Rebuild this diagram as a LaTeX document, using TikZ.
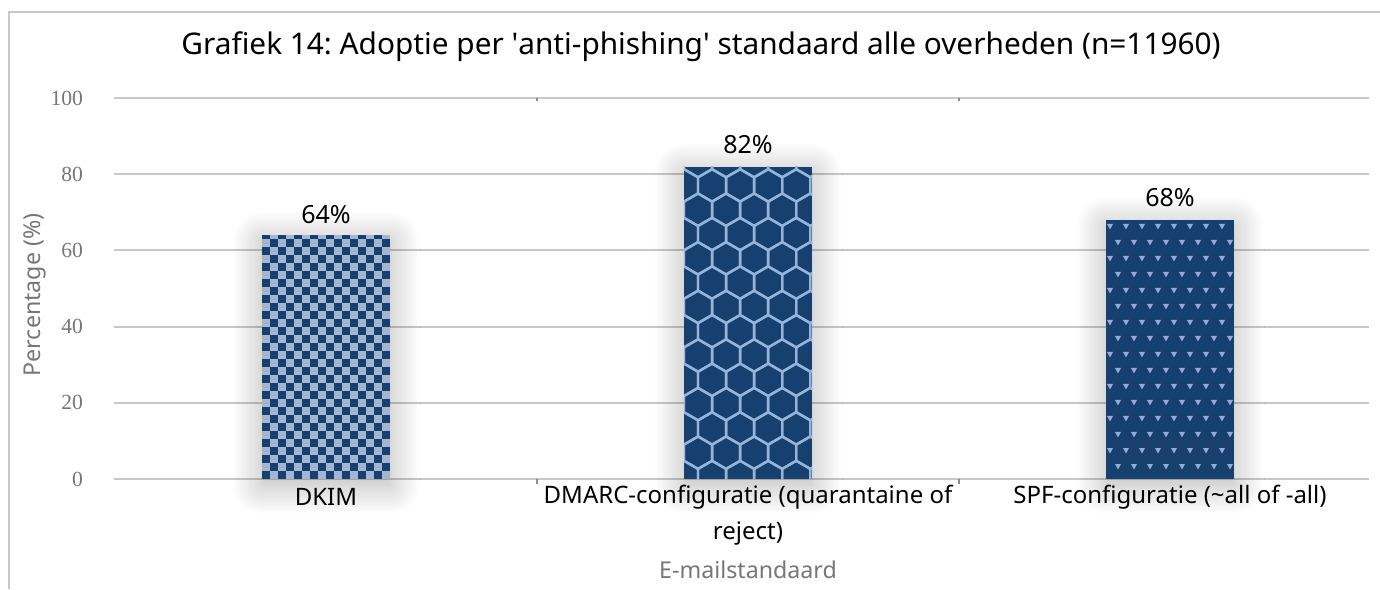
\documentclass[tikz,border=0pt]{standalone}
\usepackage{fontspec}
\setmainfont{Noto Sans}
\newfontfamily\tickfont{Liberation Serif}
\usetikzlibrary{shadows.blur}
\frenchspacing

\definecolor{barblue}{RGB}{22,64,112}
\definecolor{checklight}{RGB}{164,182,206}
\definecolor{hexline}{RGB}{150,180,216}
\definecolor{dotlight}{RGB}{150,172,204}
\definecolor{gridgray}{RGB}{200,200,200}
\definecolor{labelgray}{RGB}{118,118,118}

\begin{document}
\begin{tikzpicture}
        [x=0.5pt, y=0.5pt,
        gridline/.style={draw=gridgray, line width=1pt},
        ticklabel/.style={anchor=east, text=labelgray, font=\tickfont\fontsize{10.8}{12}\selectfont},
        valuelabel/.style={font=\fontsize{12.5}{14}\selectfont},
        catlabel/.style={font=\fontsize{12}{18}\selectfont, align=center},
        axistitle/.style={text=labelgray, font=\fontsize{11.6}{14}\selectfont},
        barshadow/.style={blur shadow={shadow xshift=0pt, shadow yshift=-3pt,
                shadow blur radius=15pt, shadow blur steps=24, shadow opacity=30}}]
        \useasboundingbox (0,0) rectangle (1380,589);

        % chart frame
        \draw [gridgray, line width=1pt] (9,0) -- (9,577) -- (1380,577);

        % title
        \node [font=\fontsize{14.9}{18}\selectfont] (title) at (701,542)
            {Grafiek 14: Adoptie per \textquotesingle anti-phishing\textquotesingle\ standaard alle overheden (n=11960)};

        % gridlines and value axis
        \foreach \v in {0,20,...,100} {
            \draw [gridline] (114,{110+3.81*\v}) -- (1369,{110+3.81*\v});
            \node [ticklabel] (tick\v) at (90,{110+3.81*\v}) {\v};
        }
        \foreach \x in {537,959} {
            \draw [gridgray!70!black, line width=0.6pt] (\x,491) -- (\x,488);
            \draw [gridgray!70!black, line width=0.6pt] (\x,110) -- (\x,105);
        }

        % bar 1: checkerboard
        \fill [checklight, barshadow] (262,110) rectangle (390,353.8);
        \begin{scope}
            \clip (262,110) rectangle (390,353.8);
            \foreach \i in {0,...,15} {
                \foreach \j in {0,2,...,30} {
                    \pgfmathtruncatemacro\jj{\j+mod(\i,2)}
                    \fill [barblue] (262+8*\i,110+8*\jj) rectangle +(8,8);
                }
            }
        \end{scope}

        % bar 2: hexagons
        \fill [barblue, barshadow] (684,110) rectangle (812,422.4);
        \begin{scope}
            \clip (684,110) rectangle (812,422.4);
            \foreach \r in {0,...,13} {
                \foreach \c in {-1,...,5} {
                    \pgfmathsetmacro\hx{684+28.06*\c+14.03*mod(\r,2)}
                    \pgfmathsetmacro\hy{112+24.3*\r}
                    \draw [hexline, line width=1.2pt, line join=round]
                        (\hx,\hy) +(90:16.2) -- +(150:16.2) -- +(210:16.2)
                        -- +(270:16.2) -- +(330:16.2) -- +(30:16.2) -- cycle;
                }
            }
        \end{scope}

        % bar 3: small triangles
        \fill [barblue, barshadow] (1106,110) rectangle (1234,369.1);
        \begin{scope}
            \clip (1106,110) rectangle (1234,369.1);
            \foreach \r in {0,...,16} {
                \foreach \c in {0,...,8} {
                    \pgfmathsetmacro\tx{1110+16*\c+8*mod(\r,2)}
                    \pgfmathsetmacro\ty{365-16*\r}
                    \fill [dotlight] (\tx-3,\ty) -- (\tx+3,\ty) -- (\tx,\ty-5.5) -- cycle;
                }
            }
        \end{scope}

        % value labels
        \node [valuelabel] (val1) at (326,374) {64\%};
        \node [valuelabel] (val2) at (748,444) {82\%};
        \node [valuelabel] (val3) at (1170,391) {68\%};

        % category labels
        \node [catlabel] (cat1) at (326,92) {DKIM};
        \node [catlabel] (cat2) at (748,74) {DMARC-configuratie (quarantaine of\\reject)};
        \node [catlabel] (cat3) at (1170,92) {SPF-configuratie (\textasciitilde all of -all)};

        % axis titles
        \node [axistitle] (xtitle) at (748,19) {E-mailstandaard};
        \node [axistitle, rotate=90] (ytitle) at (35,294) {Percentage (\%)};
    \end{tikzpicture}
\end{document}
